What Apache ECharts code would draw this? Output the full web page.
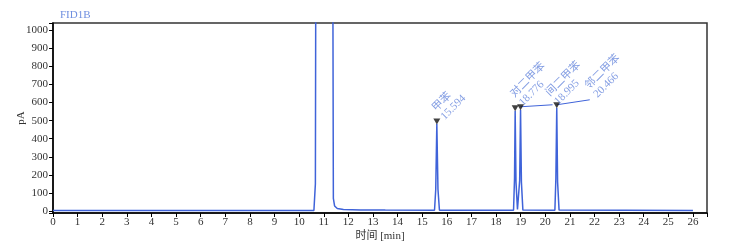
<!DOCTYPE html>
<html><head><meta charset="utf-8">
<script src="https://cdn.jsdelivr.net/npm/echarts@6/dist/echarts.min.js"></script>
<style>html,body{margin:0;padding:0;background:#fff}#c{width:740px;height:245px}</style>
</head><body><div id="c"></div>
<script>
// chromatogram trace [time (min), signal (pA)]
const trace = [
  [0,3],[10.60,3],[10.66,150],[10.70,3000],[11.34,3000],[11.39,70],[11.44,28],[11.55,14],[11.8,9],[12.5,6],[13.5,5],
  [15.50,4],[15.55,120],[15.594,482],[15.64,120],[15.70,4],
  [18.71,4],[18.75,180],[18.776,554],[18.81,160],[18.87,8],
  [18.93,8],[18.96,170],[18.995,560],[19.03,160],[19.09,5],
  [20.39,4],[20.43,180],[20.466,571],[20.50,160],[20.56,5],
  [26,3]
];
const peakNames = ['甲苯','对二甲苯','间二甲苯','邻二甲苯'];
const peakTimes = [15.594, 18.776, 18.995, 20.466];
const peakHeights = [482, 554, 560, 571];
const xRange = {min:0, max:26.57, interval:1};
const yRange = {min:-11, max:1040, step:100};

const blue = '#3f63d9';
const labelBlue = '#6586dc';
const serif = '"Liberation Serif","DejaVu Serif",serif';
const cjk = '"Liberation Serif","Noto Sans CJK SC",serif';

// screen-space label shift (px) -> label local (rotated 45deg) frame
const S = Math.SQRT1_2;
function shift(X, Y){ return {dx: S*(X - Y), dy: S*(X + Y)}; }
const labelShifts = [[10,1],[10,0],[40,0],[43,-5]];
// leader line pixel offsets for displaced labels (null = no leader)
const leaderOffsets = [null, null, [32,-2], [33,-5]];

const chart = echarts.init(document.getElementById('c'), null, {renderer:'canvas'});
chart.setOption({
  animation:false,
  title:{text:'FID1B', left:55, top:5, textStyle:{fontFamily:serif, fontSize:11, fontWeight:'normal', color:'#6f8fe0'}},
  grid:{left:53, right:33, top:23, bottom:32, show:true, borderColor:'#333', borderWidth:1.5,
    backgroundColor:'transparent', containLabel:false, outerBoundsMode:'none'},
  xAxis:{type:'value', min:xRange.min, max:xRange.max, interval:xRange.interval,
    name:'时间 [min]', nameLocation:'middle', nameGap:18, nameMoveOverlap:false,
    nameTextStyle:{fontFamily:cjk, fontSize:11, color:'#333'},
    axisLine:{onZero:false, lineStyle:{color:'#000', width:1.5}},
    axisTick:{length:4, lineStyle:{color:'#000'}},
    axisLabel:{fontFamily:serif, fontSize:11, color:'#333', margin:4,
      formatter:v=> Number.isInteger(v)? String(v):''},
    splitLine:{show:false}},
  yAxis:{type:'value', min:yRange.min, max:yRange.max, minInterval:yRange.step, maxInterval:yRange.step, splitNumber:10,
    name:'pA', nameLocation:'middle', nameGap:26, nameMoveOverlap:false,
    nameTextStyle:{fontFamily:serif, fontSize:11, color:'#333'},
    axisLine:{show:true, onZero:false, lineStyle:{color:'#000', width:1.5}},
    axisTick:{show:true, length:4, lineStyle:{color:'#000'}},
    axisLabel:{fontFamily:serif, fontSize:11, color:'#333', margin:5,
      formatter:v=> (v>=0 && v%100===0)? String(v):''},
    splitLine:{show:false}},
  series:[
    {type:'line', data:trace, showSymbol:false, symbol:'none', clip:true,
      lineStyle:{color:blue, width:1.5}, z:2},
    {type:'custom', z:4, silent:true,
      data: peakTimes.map((t,i)=>[t, peakHeights[i], i]),
      renderItem:(params, api)=>{
        const off = leaderOffsets[api.value(2)];
        if(!off) return null;
        const p = api.coord([api.value(0), api.value(1)]);
        return {type:'line', shape:{x1:p[0], y1:p[1]-3, x2:p[0]+off[0], y2:p[1]-3+off[1]},
          style:{stroke:blue, lineWidth:1}};
      }},
    {type:'scatter', symbol:'triangle', symbolRotate:180, symbolSize:[7,6], symbolOffset:[0,-2.5],
      itemStyle:{color:'#111'}, z:5,
      data: peakTimes.map((t,i)=>({value:[t, peakHeights[i]], name:peakNames[i]})),
      label:{show:true, position:'inside', align:'left', verticalAlign:'bottom', rotate:45,
        fontFamily:cjk, fontSize:11, lineHeight:12, color:labelBlue,
        formatter:p=> p.name+'\n'+peakTimes[p.dataIndex].toFixed(3)},
      labelLine:{show:false},
      labelLayout:p=> shift(labelShifts[p.dataIndex][0], labelShifts[p.dataIndex][1])
    }
  ]
});
</script></body></html>
